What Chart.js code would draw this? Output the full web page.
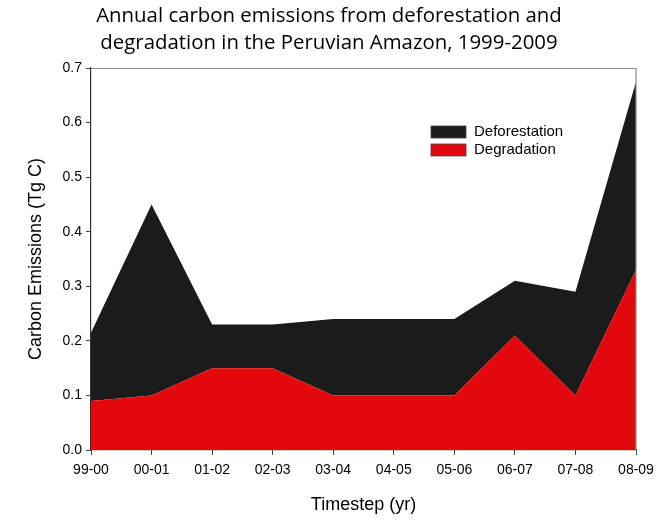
<!DOCTYPE html>
<html>
<head>
<meta charset="utf-8">
<script src="https://cdn.jsdelivr.net/npm/chart.js@4"></script>
<style>
html,body{margin:0;padding:0;background:#fff;}
#wrap{width:658px;height:520px;position:relative;}
</style>
</head>
<body>
<div id="wrap"><canvas id="c" width="658" height="520"></canvas></div>
<script>
const categories = ["99-00","00-01","01-02","02-03","03-04","04-05","05-06","06-07","07-08","08-09"];
const degradation = [0.09, 0.10, 0.15, 0.15, 0.10, 0.10, 0.10, 0.21, 0.10, 0.33];
const deforestation = [0.125, 0.35, 0.08, 0.08, 0.14, 0.14, 0.14, 0.10, 0.19, 0.345];
const titleLines = ["Annual carbon emissions from deforestation and", "degradation in the Peruvian Amazon, 1999-2009"];
const seriesNames = ["Deforestation", "Degradation"];
const yTitle = "Carbon Emissions (Tg C)";
const xTitle = "Timestep (yr)";

const BLACK = "#1b1b1b";
const RED = "#e2080c";

const decor = {
  id: "decor",
  afterDraw(chart) {
    const ctx = chart.ctx;
    const a = chart.chartArea;
    ctx.save();
    // frame top/right
    ctx.strokeStyle = "#8a8a8a";
    ctx.lineWidth = 1.2;
    ctx.beginPath();
    ctx.moveTo(a.left, a.top + 0.5);
    ctx.lineTo(a.right, a.top + 0.5);
    ctx.lineTo(a.right, a.bottom);
    ctx.stroke();
    // title
    ctx.fillStyle = "#000";
    ctx.font = "20.4px 'Open Sans'";
    ctx.textAlign = "center";
    ctx.textBaseline = "middle";
    ctx.fillText(titleLines[0], 329, 16);
    ctx.fillText(titleLines[1], 329, 43);
    // legend
    const items = [[seriesNames[0], BLACK], [seriesNames[1], RED]];
    ctx.font = "15px 'Liberation Sans'";
    ctx.textAlign = "left";
    items.forEach((it, i) => {
      const y = 132 + i * 18;
      ctx.fillStyle = it[1];
      ctx.fillRect(431, y - 6, 35, 12);
      ctx.strokeStyle = "#444";
      ctx.lineWidth = 0.8;
      ctx.strokeRect(431, y - 6, 35, 12);
      ctx.fillStyle = "#000";
      ctx.fillText(it[0], 474, y);
    });
    ctx.restore();
  }
};

new Chart(document.getElementById("c"), {
  type: "line",
  data: {
    labels: categories,
    datasets: [
      { label: seriesNames[1], data: degradation, fill: "origin", backgroundColor: RED, borderColor: "rgba(0,0,0,0)", borderWidth: 0, pointRadius: 0, tension: 0 },
      { label: seriesNames[0], data: deforestation, fill: "-1", backgroundColor: BLACK, borderColor: "rgba(0,0,0,0)", borderWidth: 0, pointRadius: 0, tension: 0 }
    ]
  },
  options: {
    responsive: false,
    animation: false,
    devicePixelRatio: 1,
    layout: { padding: { top: 68, right: 22, left: 0, bottom: 0 } },
    plugins: { legend: { display: false }, title: { display: false }, tooltip: { enabled: false } },
    scales: {
      x: {
        offset: false,
        grid: { display: true, drawOnChartArea: false, drawTicks: true, tickLength: 5, color: "#444" },
        border: { display: true, color: "#333", width: 1.2 },
        ticks: { color: "#000", font: { family: "Liberation Sans", size: 14 }, maxRotation: 0, autoSkip: false, padding: 7 },
        title: { display: true, text: xTitle, color: "#000", font: { family: "Liberation Sans", size: 18 }, padding: { top: 14 } },
        afterFit(s) { s.height = 70; s.paddingRight = 0; }
      },
      y: {
        stacked: true,
        min: 0, max: 0.7,
        grid: { display: true, drawOnChartArea: false, drawTicks: true, tickLength: 5, color: "#444" },
        border: { display: true, color: "#333", width: 1.2 },
        ticks: { stepSize: 0.1, color: "#000", font: { family: "Liberation Sans", size: 14 }, padding: 4, callback: v => v.toFixed(1) },
        title: { display: true, text: yTitle, color: "#000", font: { family: "Liberation Sans", size: 18 }, padding: { top: 25, bottom: 0 } },
        afterFit(s) { s.width = 91; }
      }
    }
  },
  plugins: [decor]
});
</script>
</body>
</html>
